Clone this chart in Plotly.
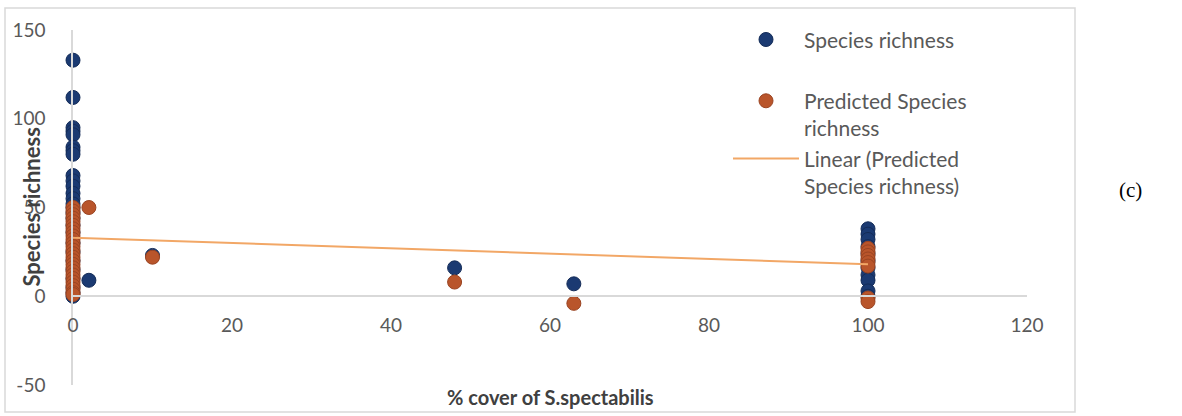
import plotly.graph_objects as go

# ---- data ----
richness_x = [0]*27 + [2, 10, 48, 63] + [100]*11
richness_y = [133, 112, 95, 93, 91, 84, 82, 80, 68, 65, 62, 58, 55, 52, 50, 47, 44,
              40, 36, 30, 25, 20, 15, 10, 5, 2, 0,
              9, 23, 16, 7,
              38, 35, 32, 28, 24, 20, 16, 12, 9, 3, 0]

pred_x = [0]*26 + [2, 10, 48, 63] + [100]*8
pred_y = [50, 48, 46, 44, 42, 40, 38, 36, 34, 32, 30, 28, 26, 24, 22, 20, 18, 16,
          14, 12, 10, 8, 6, 4, 2, 1,
          50, 22, 8, -4,
          27, 25, 23, 21, 19, 17, -1, -3]

trend_x = [0, 100]
trend_y = [33, 18]

x_ticks = [0, 20, 40, 60, 80, 100, 120]
y_ticks = [-50, 0, 50, 100, 150]
y_tick_text = ["-50", "0", "50", "100", "150"]

FONT = "Lato"
GREY = "#595959"

fig = go.Figure()
fig.add_trace(go.Scatter(
    x=richness_x, y=richness_y, mode="markers", name="Species richness",
    legendgroup="a", cliponaxis=False,
    marker=dict(size=14, color="#1b3a72", line=dict(width=1, color="#142c58"))))
fig.add_trace(go.Scatter(
    x=pred_x, y=pred_y, mode="markers", name="Predicted Species<br>richness",
    legendgroup="b", cliponaxis=False,
    marker=dict(size=14, color="#b9552b", line=dict(width=1, color="#9a4422"))))
fig.add_trace(go.Scatter(
    x=trend_x, y=trend_y, mode="lines", name="Linear (Predicted<br>Species richness)",
    legendgroup="b", cliponaxis=False,
    line=dict(color="#f2a766", width=2)))

fig.update_layout(
    width=1182, height=416,
    margin=dict(l=73, r=155, t=30, b=31),
    paper_bgcolor="white", plot_bgcolor="white",
    font=dict(family=FONT, size=19, color=GREY),
    showlegend=True,
    legend=dict(x=(728 - 73) / 954, y=1.03, xanchor="left", yanchor="top",
                bgcolor="rgba(0,0,0,0)", font=dict(size=21, color=GREY),
                tracegroupgap=31, valign="top", itemwidth=66),
    xaxis=dict(range=[0, 120], tickvals=x_ticks, showgrid=False, zeroline=False,
               showline=True, linecolor="#d9d9d9", linewidth=1.5,
               anchor="free", position=0.25, ticks="", ticklabelstandoff=12,
               tickfont=dict(size=19, color=GREY)),
    yaxis=dict(range=[-50, 150], tickvals=y_ticks, ticktext=y_tick_text,
               showgrid=False, zeroline=False,
               showline=True, linecolor="#d9d9d9", linewidth=1.5,
               ticks="", ticklabelstandoff=22, tickfont=dict(size=19, color=GREY)),
    annotations=[
        dict(text="<b>% cover of S.spectabilis</b>", xref="paper", yref="paper",
             x=0.5, y=(385 - 397) / 355, xanchor="center", yanchor="middle",
             showarrow=False, font=dict(size=20, color="#404040", family=FONT)),
        dict(text="<b>Species richness</b>", xref="paper", yref="paper",
             x=(31 - 73) / 954, y=0.5, xanchor="center", yanchor="middle",
             textangle=-90, showarrow=False,
             font=dict(size=22, color="#404040", family=FONT)),
        dict(text="(c)", xref="paper", yref="paper",
             x=(1130 - 73) / 954, y=(385 - 190) / 355, xanchor="center",
             yanchor="middle", showarrow=False,
             font=dict(size=21, color="black", family="Liberation Serif")),
    ],
    shapes=[dict(type="rect", xref="paper", yref="paper",
                 x0=(5 - 73) / 954, x1=(1075 - 73) / 954,
                 y0=(385 - 412) / 355, y1=(385 - 8) / 355,
                 line=dict(color="#d9d9d9", width=1.5))],
)

fig.write_html("out.html")
